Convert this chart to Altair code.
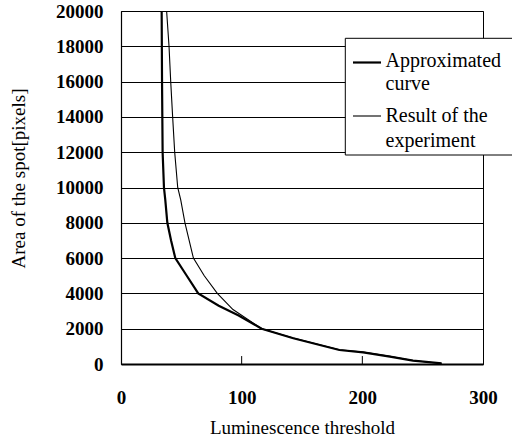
import altair as alt
import pandas as pd

# Approximated curve
approx_threshold = [33.7, 34.0, 34.5, 35.6, 36.7, 38.4, 41.5, 45.0, 54.5, 64.0, 81.0, 97.5, 116.6, 142.8, 181.0, 200.7, 222.9, 242.0, 265.7]
approx_area = [20000, 16000, 12000, 10000, 9300, 8000, 7000, 6000, 5000, 4000, 3300, 2750, 2000, 1456, 793, 663, 414, 187, 40]

# Result of the experiment
exp_threshold = [37.8, 39.8, 41.2, 42.8, 44.5, 47.0, 49.5, 53.0, 60.0, 69.0, 79.8, 92.8, 116.6, 142.8, 181.0, 200.7, 222.9, 242.0, 265.7]
exp_area = [20000, 18000, 16000, 14000, 12000, 10000, 9300, 8000, 6000, 5000, 4000, 3085, 2000, 1470, 810, 680, 430, 200, 30]

x_ticks = [0, 100, 200, 300]
inner_ticks = [100, 200]
y_ticks = list(range(0, 20001, 2000))

legend_labels = ["Approximated", "curve", "Result of the", "experiment"]

SERIF = "Liberation Serif"

df_a = pd.DataFrame({"t": approx_threshold, "a": approx_area})
df_e = pd.DataFrame({"t": exp_threshold, "a": exp_area})
df_ticks = pd.DataFrame({"t": inner_ticks, "a": [0] * len(inner_ticks), "a1": [450] * len(inner_ticks)})

xscale = alt.Scale(domain=[0, 300], nice=False)
yscale = alt.Scale(domain=[0, 20000], nice=False)

xaxis = alt.Axis(
    values=x_ticks, ticks=False, grid=False, labelFont=SERIF, labelFontSize=19,
    labelFontWeight="bold", labelColor="black", labelPadding=24, labelOverlap=False, labelFlush=False,
    domainColor="black", domainWidth=2,
    title="Luminescence threshold", titleFont=SERIF, titleFontSize=19,
    titleFontWeight="normal", titleColor="black", titleBaseline="alphabetic", titleY=69,
)
yaxis = alt.Axis(
    values=y_ticks, format="d", ticks=False, grid=True, gridColor="black", gridWidth=1, gridOpacity=1,
    labelFont=SERIF, labelFontSize=19, labelFontWeight="bold", labelColor="black", labelPadding=18,
    labelOverlap=False, labelFlush=False,
    domainColor="black", domainWidth=1.2,
    title="Area of the spot[pixels]", titleFont=SERIF, titleFontSize=19,
    titleFontWeight="normal", titleColor="black", titleBaseline="middle", titleX=-103, titleY=167,
)

X = alt.X("t:Q", scale=xscale, axis=xaxis)
Y = alt.Y("a:Q", scale=yscale, axis=yaxis)

approx_line = alt.Chart(df_a).mark_line(color="black", strokeWidth=2.2, clip=True).encode(x=X, y=Y)
exp_line = alt.Chart(df_e).mark_line(color="black", strokeWidth=1.1, clip=True).encode(x=X, y=Y)
tick_rules = alt.Chart(df_ticks).mark_rule(color="black", strokeWidth=1).encode(x=X, y=Y, y2="a1:Q")

# manual legend
box = alt.Chart(pd.DataFrame({"k": [0]})).mark_rect(fill="white", stroke="black", strokeWidth=1).encode(
    x=alt.value(224.3), x2=alt.value(394), y=alt.value(27.3), y2=alt.value(144)
)
sym1 = alt.Chart(pd.DataFrame({"k": [0]})).mark_rule(color="black", strokeWidth=2.2).encode(
    x=alt.value(232), x2=alt.value(260), y=alt.value(51.5)
)
sym2 = alt.Chart(pd.DataFrame({"k": [0]})).mark_rule(color="black", strokeWidth=1.1).encode(
    x=alt.value(232), x2=alt.value(260), y=alt.value(105)
)
text_ys = [56, 79, 111, 136]
texts = [
    alt.Chart(pd.DataFrame({"k": [0]})).mark_text(
        text=lbl, font=SERIF, fontSize=20, color="black", align="left", baseline="alphabetic"
    ).encode(x=alt.value(264.5), y=alt.value(yy))
    for lbl, yy in zip(legend_labels, text_ys)
]

chart = alt.layer(approx_line, tick_rules, exp_line, box, sym1, sym2, *texts).properties(
    width=362, height=353,
    autosize=alt.AutoSizeParams(type="none"),
    padding={"left": 121, "top": 11, "right": 29, "bottom": 79},
    background="white",
).configure_view(stroke="black", strokeWidth=1).configure_axis(labelOverlap=False, labelFlush=False)

chart.save("out.html", embed_options={"renderer": "svg", "actions": False})
